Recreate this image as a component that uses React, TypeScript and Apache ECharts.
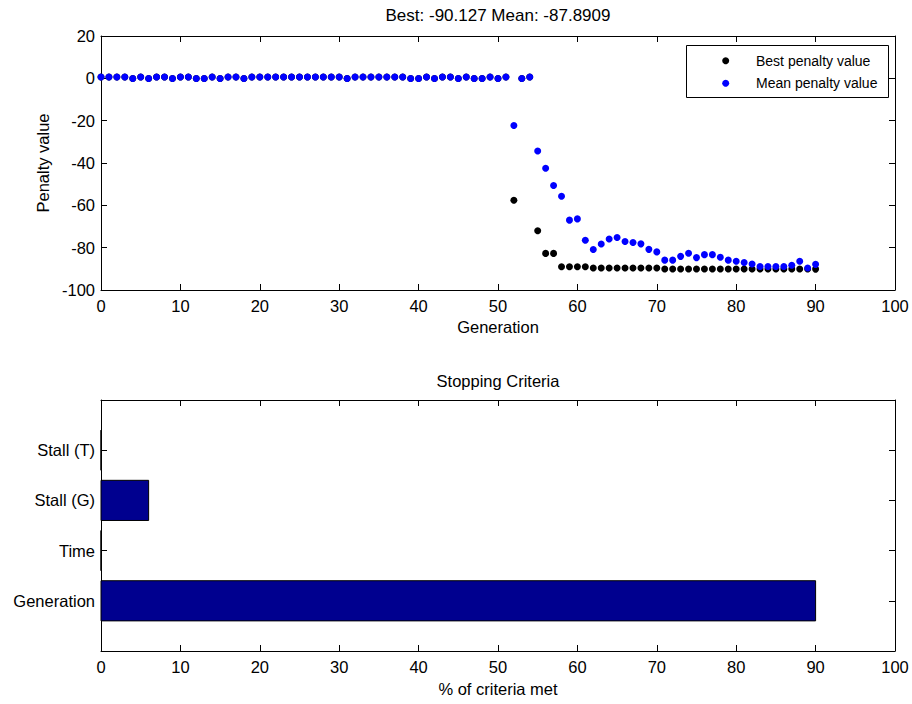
import React, { useEffect, useRef } from 'react';
import * as echarts from 'echarts';

// Generation index = position in the arrays (0 .. 90)
const bestPenalty = [
  0.6, 0.6, 0.6, 0.6, -0.1, 0.6, -0.1, 0.6, 0.6, -0.1,
  0.6, 0.6, -0.1, -0.1, 0.6, -0.1, 0.6, 0.6, -0.1, 0.6,
  0.6, 0.6, 0.6, 0.6, 0.6, 0.6, 0.6, 0.6, 0.6, 0.6,
  0.6, -0.1, 0.6, 0.6, 0.6, 0.6, 0.6, 0.6, 0.6, -0.1,
  -0.1, 0.6, -0.1, 0.6, 0.6, -0.1, 0.6, -0.1, -0.1, 0.6,
  -0.1, 0.6, -57.6, -0.1, 0.6, -72.0, -82.7, -82.7, -89.0, -89.0,
  -89.0, -89.0, -89.6, -89.6, -89.6, -89.6, -89.6, -89.6, -89.6, -89.6,
  -89.6, -90.1, -90.1, -90.1, -90.1, -90.1, -90.1, -90.1, -90.1, -90.1,
  -90.1, -90.1, -90.1, -90.1, -90.1, -90.1, -90.1, -90.1, -90.1, -90.1,
  -90.127,
];

const meanPenalty = [
  0.6, 0.6, 0.6, 0.6, -0.1, 0.6, -0.1, 0.6, 0.6, -0.1,
  0.6, 0.6, -0.1, -0.1, 0.6, -0.1, 0.6, 0.6, -0.1, 0.6,
  0.6, 0.6, 0.6, 0.6, 0.6, 0.6, 0.6, 0.6, 0.6, 0.6,
  0.6, -0.1, 0.6, 0.6, 0.6, 0.6, 0.6, 0.6, 0.6, -0.1,
  -0.1, 0.6, -0.1, 0.6, 0.6, -0.1, 0.6, -0.1, -0.1, 0.6,
  -0.1, 0.6, -22.3, -0.1, 0.6, -34.3, -42.5, -50.6, -55.7, -67.0,
  -66.4, -76.5, -80.9, -78.3, -75.9, -75.2, -77.1, -77.6, -78.2, -80.8,
  -82.0, -85.9, -85.9, -84.1, -82.6, -84.7, -83.3, -83.3, -84.5, -85.9,
  -86.4, -87.0, -87.7, -88.9, -88.9, -88.9, -88.9, -88.3, -86.4, -89.6,
  -87.8909,
];

const criteriaNames = ['Generation', 'Time', 'Stall (G)', 'Stall (T)'];
const criteriaMet = [90, 0, 6, 0];

const titleTop = 'Best: -90.127 Mean: -87.8909';
const titleBottom = 'Stopping Criteria';
const legendNames = ['Best penalty value', 'Mean penalty value'];
const seriesColors = ['#000000', '#0000FF'];

export default function App() {
  const ref = useRef<HTMLDivElement>(null);

  useEffect(() => {
    const chart = echarts.init(ref.current as HTMLDivElement, null, { renderer: 'svg' });
    const font = 'Liberation Sans, Arial, Helvetica, sans-serif';
    const axisText = { color: '#000', fontSize: 16.5, fontFamily: font };
    const axisLine = { show: true, onZero: false, lineStyle: { color: '#000', width: 1 } };
    const axisTick = { show: true, inside: true, length: 6, lineStyle: { color: '#000', width: 1 } };
    const noSplit = { show: false };

    const mirrorX = (grid: number, min: number, max: number, interval: number) => ({
      gridIndex: grid, type: 'value', position: 'top', min, max, interval,
      axisLine, axisTick, axisLabel: { show: false }, splitLine: noSplit,
    });
    const mirrorY = (grid: number, min: number, max: number, interval: number) => ({
      gridIndex: grid, type: 'value', position: 'right', min, max, interval,
      axisLine, axisTick, axisLabel: { show: false }, splitLine: noSplit,
    });

    // Legend box (MATLAB style) drawn as graphic elements
    const legendX = 686;
    const legendY = 45;
    const legendRows = [60.7, 83.3];
    const legendGraphic: any[] = [
      {
        type: 'rect', z: 100,
        shape: { x: legendX + 0.5, y: legendY + 0.5, width: 202, height: 52 },
        style: { fill: '#fff', stroke: '#000', lineWidth: 1 },
      },
    ];
    legendNames.forEach((name, i) => {
      legendGraphic.push({
        type: 'circle', z: 101,
        shape: { cx: 725.7, cy: legendRows[i], r: 3.5 },
        style: { fill: seriesColors[i] },
      });
      legendGraphic.push({
        type: 'text', z: 101, x: 756, y: legendRows[i],
        style: {
          text: name, fill: '#000', fontSize: 14, fontFamily: font,
          verticalAlign: 'middle', align: 'left',
        },
      });
    });

    const option: any = {
      animation: false,
      backgroundColor: '#fff',
      textStyle: { fontFamily: font },
      title: [
        {
          text: titleTop, left: 498, top: 7, textAlign: 'center', padding: 0,
          textStyle: { fontSize: 17, fontWeight: 'normal', color: '#000', fontFamily: font },
        },
        {
          text: titleBottom, left: 498, top: 372, textAlign: 'center', padding: 0,
          textStyle: { fontSize: 16.5, fontWeight: 'normal', color: '#000', fontFamily: font },
        },
      ],
      graphic: legendGraphic,
      grid: [
        { left: 101, top: 36, width: 794, height: 254 },
        { left: 101, top: 400, width: 794, height: 251 },
      ],
      xAxis: [
        {
          gridIndex: 0, type: 'value', position: 'bottom', min: 0, max: 100, interval: 10,
          axisLine, axisTick, splitLine: noSplit,
          axisLabel: { ...axisText, margin: 7 },
          name: 'Generation', nameLocation: 'middle', nameGap: 28, nameTextStyle: axisText,
        },
        mirrorX(0, 0, 100, 10),
        {
          gridIndex: 1, type: 'value', position: 'bottom', min: 0, max: 100, interval: 10,
          axisLine, axisTick, splitLine: noSplit,
          axisLabel: { ...axisText, margin: 7 },
          name: '% of criteria met', nameLocation: 'middle', nameGap: 29, nameTextStyle: axisText,
        },
        mirrorX(1, 0, 100, 10),
      ],
      yAxis: [
        {
          gridIndex: 0, type: 'value', position: 'left', min: -100, max: 20, interval: 20,
          axisLine, axisTick, splitLine: noSplit,
          axisLabel: { ...axisText, margin: 6 },
          name: 'Penalty value', nameLocation: 'middle', nameGap: 50, nameTextStyle: axisText,
        },
        mirrorY(0, -100, 20, 20),
        {
          gridIndex: 1, type: 'value', position: 'left', min: 0, max: 5, interval: 1,
          axisLine, axisTick, splitLine: noSplit,
          axisLabel: {
            ...axisText, margin: 6,
            formatter: (v: number) => criteriaNames[v - 1] ?? '',
          },
        },
        mirrorY(1, 0, 5, 1),
      ],
      series: [
        {
          type: 'scatter', name: legendNames[0], xAxisIndex: 0, yAxisIndex: 0,
          symbol: 'circle', symbolSize: 7,
          itemStyle: { color: seriesColors[0], opacity: 1 },
          data: bestPenalty.map((v, i) => [i, v]),
        },
        {
          type: 'scatter', name: legendNames[1], xAxisIndex: 0, yAxisIndex: 0,
          symbol: 'circle', symbolSize: 7,
          itemStyle: { color: seriesColors[1], opacity: 1 },
          data: meanPenalty.map((v, i) => [i, v]),
        },
        {
          type: 'custom', name: 'criteria', xAxisIndex: 2, yAxisIndex: 2,
          encode: { x: 0, y: 1 },
          data: criteriaMet.map((v, i) => [v, i + 1]),
          renderItem: (params: any, api: any) => {
            const v = api.value(0);
            const c = api.value(1);
            const p0 = api.coord([0, c - 0.4]);
            const p1 = api.coord([v, c + 0.4]);
            return {
              type: 'rect',
              shape: { x: p0[0], y: p1[1], width: p1[0] - p0[0], height: p0[1] - p1[1] },
              style: { fill: '#00008F', stroke: '#000', lineWidth: 1 },
            };
          },
        },
      ],
    };

    chart.setOption(option);
    return () => chart.dispose();
  }, []);

  return (
    <div
      ref={ref}
      style={{ position: 'fixed', left: 0, top: 0, width: 912, height: 704, background: '#fff' }}
    />
  );
}
